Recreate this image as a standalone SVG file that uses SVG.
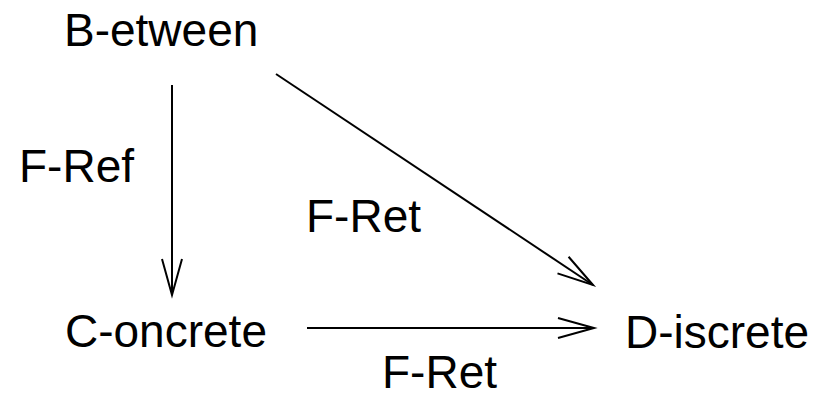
<svg xmlns="http://www.w3.org/2000/svg" width="824" height="398" viewBox="0 0 824 398">
<style>
text{font-family:"Liberation Sans",Arial,Helvetica,sans-serif;font-size:46px;fill:#000}
.edge{stroke:#000;stroke-width:2;fill:none}
</style>
<defs>
<marker id="arr" markerUnits="userSpaceOnUse" markerWidth="40" markerHeight="24" viewBox="-38 -12 40 24" refX="0" refY="0" orient="auto" overflow="visible">
<path d="M-36,-10 L0,0 L-36,10" fill="none" stroke="#000" stroke-width="2"/>
</marker>
</defs>
<rect width="824" height="398" fill="#fff"/>
<g id="node-between"><text x="64" y="46">B-etween</text></g>
<g id="node-concrete"><text x="65" y="347">C-oncrete</text></g>
<g id="node-discrete"><text x="625" y="348">D-iscrete</text></g>
<g id="connectors">
<line class="edge" x1="172" y1="85" x2="172" y2="295" marker-end="url(#arr)"/>
<line class="edge" x1="276" y1="74" x2="593" y2="285" marker-end="url(#arr)"/>
<line class="edge" x1="307" y1="328" x2="594" y2="328" marker-end="url(#arr)"/>
<text x="19" y="182">F-Ref</text>
<text x="306" y="232">F-Ret</text>
<text x="382" y="388">F-Ret</text>
</g>
</svg>
